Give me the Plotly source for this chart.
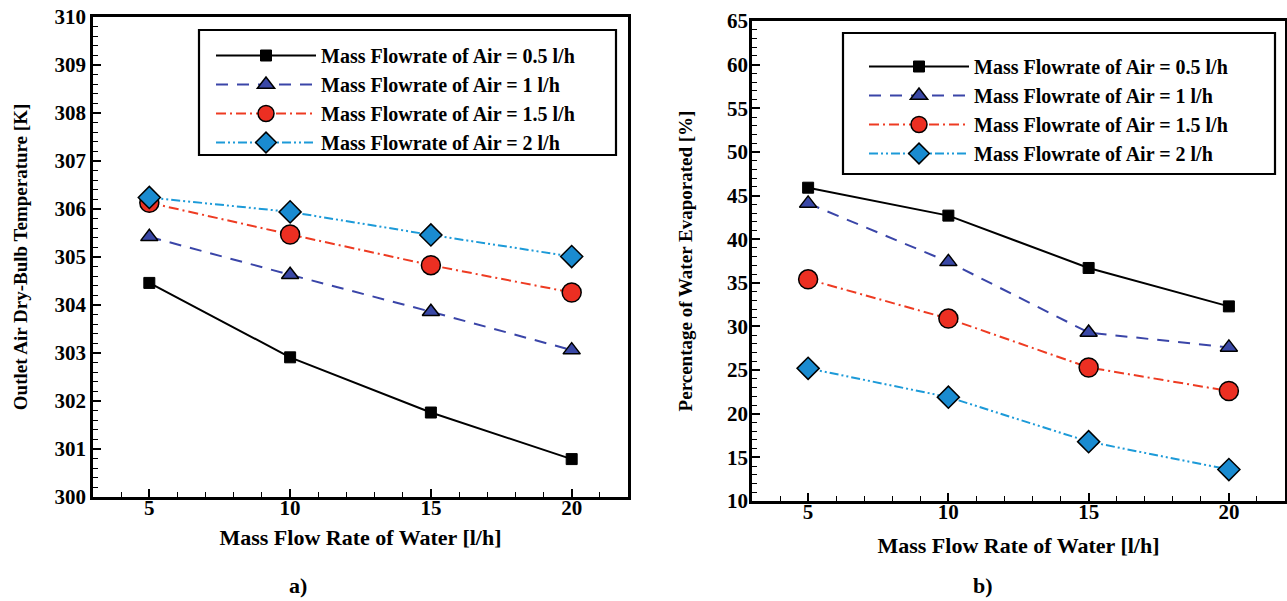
import plotly.graph_objects as go

water_flow = [5, 10, 15, 20]
series_names = ["Mass Flowrate of Air = 0.5 l/h", "Mass Flowrate of Air = 1 l/h",
                "Mass Flowrate of Air = 1.5 l/h", "Mass Flowrate of Air = 2 l/h"]
temp_05 = [304.46, 302.91, 301.76, 300.79]
temp_1 = [305.42, 304.63, 303.86, 303.06]
temp_15 = [306.13, 305.47, 304.83, 304.26]
temp_2 = [306.24, 305.94, 305.46, 305.01]
evap_05 = [45.9, 42.7, 36.7, 32.3]
evap_1 = [44.1, 37.4, 29.3, 27.6]
evap_15 = [35.4, 30.9, 25.3, 22.6]
evap_2 = [25.2, 21.9, 16.8, 13.6]

FONT = "Liberation Serif"
styles = [
    dict(line=dict(color="black", width=2, dash="solid"),
         marker=dict(symbol="square", size=11, color="black", line=dict(color="black", width=1))),
    dict(line=dict(color="#3a45a8", width=2, dash="12px,9px"),
         marker=dict(symbol="triangle-up", size=15, color="#3a48a6", line=dict(color="black", width=1.5))),
    dict(line=dict(color="#ee3b22", width=2, dash="10px,4px,2px,4px"),
         marker=dict(symbol="circle", size=19, color="#ec2f22", line=dict(color="black", width=1.5))),
    dict(line=dict(color="#1c9ad8", width=2, dash="9px,3px,2px,3px,2px,3px"),
         marker=dict(symbol="diamond", size=17, color="#1a8bd0", line=dict(color="black", width=1.5))),
]

fig = go.Figure()
left = [temp_05, temp_1, temp_15, temp_2]
right = [evap_05, evap_1, evap_15, evap_2]
for name, vals, st in zip(series_names, left, styles):
    fig.add_trace(go.Scatter(x=water_flow, y=vals, name=name, mode="lines+markers",
                             xaxis="x", yaxis="y", legend="legend", **st))
for name, vals, st in zip(series_names, right, styles):
    fig.add_trace(go.Scatter(x=water_flow, y=vals, name=name, mode="lines+markers",
                             xaxis="x2", yaxis="y2", legend="legend2", **st))

tickfont = dict(family=FONT, size=21, color="black", weight="bold")
ytitlefont = dict(family=FONT, size=19, color="black", weight="bold")
xtitlefont = dict(family=FONT, size=22, color="black", weight="bold")
common = dict(showline=True, linewidth=2.5, linecolor="black", mirror=True,
              ticks="inside", ticklen=8, tickwidth=1.5, tickcolor="black",
              showgrid=False, zeroline=False, tickfont=tickfont, automargin=False)
minor_common = dict(ticks="inside", ticklen=5, tickwidth=1.2, tickcolor="black")

W, H = 1287, 601
legfont = dict(family=FONT, size=20, color="black", weight="bold")
fig.update_layout(
    width=W, height=H, margin=dict(l=0, r=0, t=0, b=0, autoexpand=False),
    paper_bgcolor="white", plot_bgcolor="white",
    xaxis=dict(domain=[93 / W, 628 / W], range=[3, 22], dtick=5, tick0=0,
               minor=dict(dtick=1, **minor_common), ticklabelstandoff=-10,
               title=dict(text="Mass Flow Rate of Water [l/h]", font=xtitlefont, standoff=11),
               anchor="y", **common),
    yaxis=dict(domain=[1 - 497 / H, 1 - 17 / H], range=[300, 310], dtick=1,
               minor=dict(dtick=0.2, **minor_common),
               title=dict(text="Outlet Air Dry-Bulb Temperature [K]", font=ytitlefont, standoff=22),
               anchor="x", **common),
    xaxis2=dict(domain=[752 / W, 1285 / W], range=[3, 22], dtick=5, tick0=0,
                minor=dict(dtick=1, **minor_common), ticklabelstandoff=-10,
                title=dict(text="Mass Flow Rate of Water [l/h]", font=xtitlefont, standoff=15),
                anchor="y2", **common),
    yaxis2=dict(domain=[1 - 501 / H, 1 - 21 / H], range=[10, 65], dtick=5,
                minor=dict(dtick=1, **minor_common), ticklabelstandoff=-3,
                title=dict(text="Percentage of Water Evaporated [%]", font=ytitlefont, standoff=30),
                anchor="x2", **common),
    legend=dict(x=211 / W, y=1 - 36 / H, xanchor="left", yanchor="top",
                bgcolor="rgba(0,0,0,0)", borderwidth=0, font=legfont,
                itemwidth=100, tracegroupgap=0),
    legend2=dict(x=864 / W, y=1 - 47 / H, xanchor="left", yanchor="top",
                 bgcolor="rgba(0,0,0,0)", borderwidth=0, font=legfont,
                 itemwidth=100, tracegroupgap=0),
    shapes=[
        dict(type="rect", xref="paper", yref="paper", layer="below",
             x0=199 / W, x1=616 / W, y0=1 - 155 / H, y1=1 - 30 / H,
             line=dict(color="black", width=2.2), fillcolor="white"),
        dict(type="rect", xref="paper", yref="paper", layer="below",
             x0=843 / W, x1=1275 / W, y0=1 - 174 / H, y1=1 - 33 / H,
             line=dict(color="black", width=2.2), fillcolor="white"),
    ],
    annotations=[
        dict(text="a)", x=298 / W, y=1 - 585 / H, xref="paper", yref="paper", showarrow=False,
             xanchor="center", yanchor="middle",
             font=dict(family=FONT, size=22, color="black", weight="bold")),
        dict(text="b)", x=983 / W, y=1 - 585 / H, xref="paper", yref="paper", showarrow=False,
             xanchor="center", yanchor="middle",
             font=dict(family=FONT, size=22, color="black", weight="bold")),
    ],
)

fig.write_html("out.html", config={"displayModeBar": False},
               post_script="document.body.style.margin='0';document.body.style.overflow='hidden';")
